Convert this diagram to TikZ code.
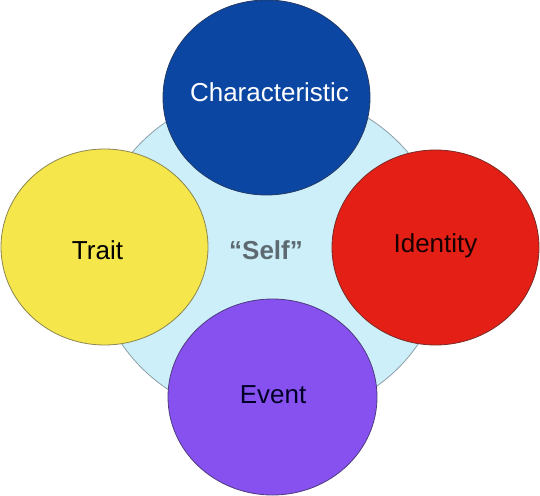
\documentclass[tikz,border=0pt]{standalone}
\usepackage{fontspec}
\setmainfont{Liberation Sans}
\usetikzlibrary{shapes.geometric}
\definecolor{selfbg}{HTML}{CDEFF9}
\definecolor{selfline}{HTML}{8C9EA6}
\definecolor{charfill}{HTML}{0B46A2}
\definecolor{charline}{HTML}{233A66}
\definecolor{traitfill}{HTML}{F5E64B}
\definecolor{traitline}{HTML}{8C8650}
\definecolor{idfill}{HTML}{E41F16}
\definecolor{idline}{HTML}{7A2A24}
\definecolor{evfill}{HTML}{8651EF}
\definecolor{evline}{HTML}{4F3C80}
\definecolor{selftext}{HTML}{5E6A71}
\tikzset{
  blob/.style={ellipse, inner sep=0pt, line width=0.8pt},
  lbl/.style={anchor=base, inner sep=0pt, font=\fontsize{26}{30}\selectfont},
}
\begin{document}
\begin{tikzpicture}[x=1pt,y=-1pt]
\useasboundingbox (0,0) rectangle (540,495);
\node[blob, fill=selfbg, draw=selfline, minimum width=352pt, minimum height=330pt] (self) at (270,255) {};
\node[blob, fill=charfill, draw=charline, minimum width=207pt, minimum height=195pt] (char) at (266.5,97.5) {};
\node[blob, fill=traitfill, draw=traitline, minimum width=207pt, minimum height=196pt] (trait) at (104.5,247) {};
\node[blob, fill=idfill, draw=idline, minimum width=207pt, minimum height=195pt] (ident) at (435.5,247.5) {};
\node[blob, fill=evfill, draw=evline, minimum width=209pt, minimum height=196pt] (event) at (272.5,397) {};
\node[lbl, text=white] (tchar) at (269.5,101.5) {Characteristic};
\node[lbl, text=black] (ttrait) at (97.5,259) {Trait};
\node[lbl, text=black!90!red] (tident) at (435.5,252.5) {Identity};
\node[lbl, text=black!85!blue] (tevent) at (273,403.5) {Event};
\node[lbl, text=selftext, font=\fontsize{26}{30}\selectfont\bfseries] (tself) at (266,259.5) {“Self”};
\end{tikzpicture}
\end{document}
